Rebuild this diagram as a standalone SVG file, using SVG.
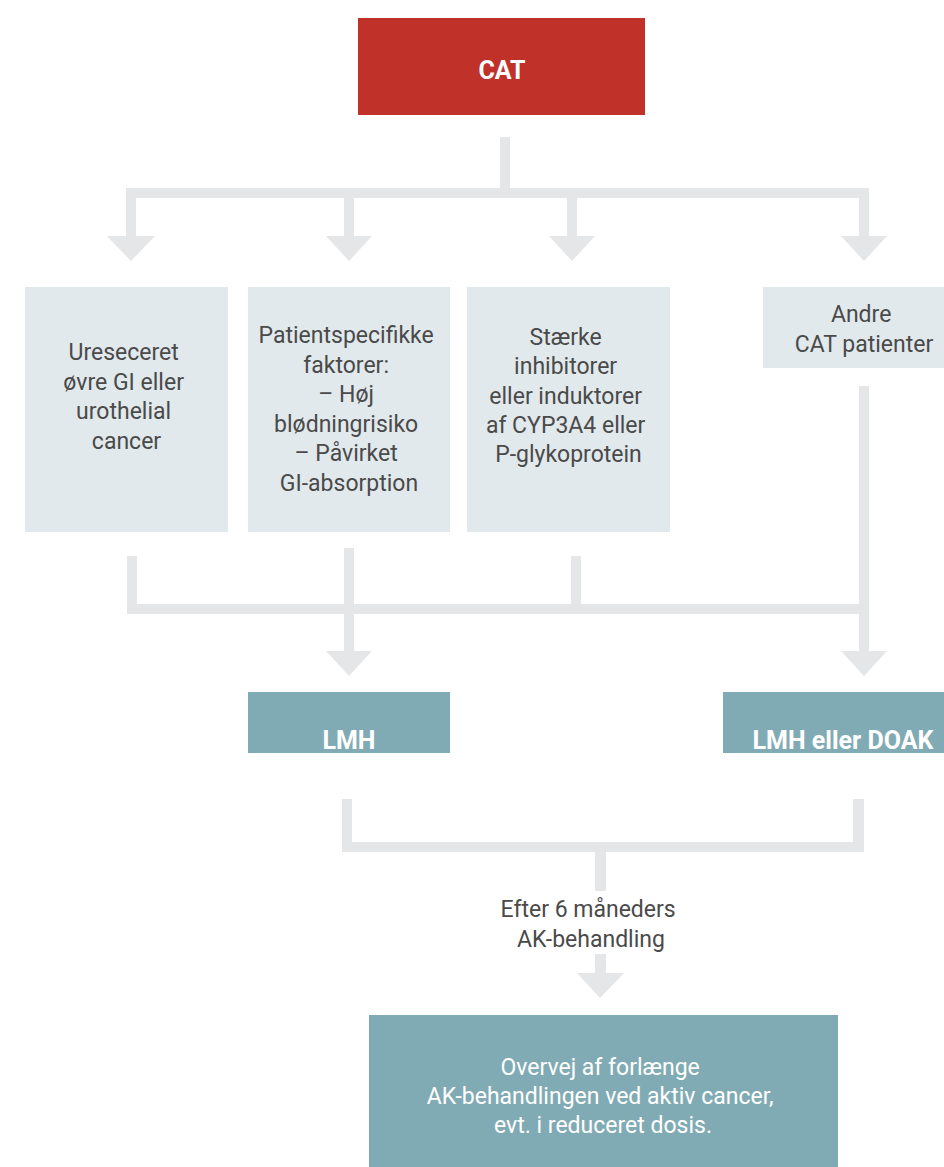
<svg xmlns="http://www.w3.org/2000/svg" width="944" height="1167" viewBox="0 0 944 1167">
  <style>
    .conn { fill: #E5E6E8; }
    .crit { fill: #E1E9EC; }
    .ther { fill: #81ABB4; }
    .lbl { font-family: Roboto, "Liberation Sans", sans-serif; font-size: 23px; fill: #4A4A4A; text-anchor: middle; }
    .wlbl { font-family: Roboto, "Liberation Sans", sans-serif; font-size: 23px; fill: #FFFFFF; text-anchor: middle; }
    .bold { font-weight: bold; font-size: 25px; }
  </style>
  <rect width="944" height="1167" fill="#FFFFFF"/>

  <!-- connectors -->
  <g id="connectors" class="conn">
    <!-- split from CAT into four branches -->
    <rect x="500" y="137" width="10" height="61"/>
    <rect x="126" y="188" width="743" height="10"/>
    <path d="M126 198 H136 V236 H155 L131 261 L107 236 H126 Z"/>
    <path d="M344 198 H354 V236 H372 L349 261 L326 236 H344 Z"/>
    <path d="M567 198 H577 V236 H595 L572 261 L549 236 H567 Z"/>
    <path d="M859 198 H869 V236 H887 L864 261 L841 236 H859 Z"/>

    <!-- merge into the two therapy boxes -->
    <rect x="127" y="556" width="10" height="58"/>
    <rect x="571" y="556" width="10" height="54"/>
    <rect x="127" y="604" width="742" height="10"/>
    <path d="M344 548 H354 V651 H372 L349 676 L326 651 H344 Z"/>
    <path d="M859 386 H869 V651 H887 L864 676 L841 651 H859 Z"/>

    <!-- after six months -->
    <rect x="342" y="799" width="10" height="53"/>
    <rect x="853" y="799" width="11" height="53"/>
    <rect x="342" y="842" width="522" height="10"/>
    <rect x="595" y="852" width="11" height="39"/>
    <path d="M595 954 H606 V973 H624 L600 998 L577 973 H595 Z"/>
  </g>

  <g id="cat">
    <rect x="358" y="18" width="287" height="97" fill="#C0312A"/>
    <text class="wlbl bold" x="502" y="79">CAT</text>
  </g>

  <g id="ureseceret">
    <rect class="crit" x="25" y="287" width="203" height="245"/>
    <text class="lbl">
      <tspan x="126.5" y="360">Ureseceret</tspan>
      <tspan x="126.5" y="389.5">øvre GI eller</tspan>
      <tspan x="126.5" y="419">urothelial</tspan>
      <tspan x="126.5" y="448.5">cancer</tspan>
    </text>
  </g>

  <g id="patientspecifikke">
    <rect class="crit" x="248" y="287" width="202" height="245"/>
    <text class="lbl">
      <tspan x="349" y="343">Patientspecifikke</tspan>
      <tspan x="349" y="372.5">faktorer:</tspan>
      <tspan x="349" y="402">– Høj</tspan>
      <tspan x="349" y="431.5">blødningrisiko</tspan>
      <tspan x="349" y="461">– Påvirket</tspan>
      <tspan x="349" y="490.5">GI-absorption</tspan>
    </text>
  </g>

  <g id="staerke">
    <rect class="crit" x="467" y="287" width="203" height="245"/>
    <text class="lbl">
      <tspan x="568.5" y="345">Stærke</tspan>
      <tspan x="568.5" y="374">inhibitorer</tspan>
      <tspan x="568.5" y="403.5">eller induktorer</tspan>
      <tspan x="568.5" y="433">af CYP3A4 eller</tspan>
      <tspan x="568.5" y="462">P-glykoprotein</tspan>
    </text>
  </g>

  <g id="andre">
    <rect class="crit" x="763" y="287" width="181" height="81"/>
    <text class="lbl">
      <tspan x="864" y="322">Andre</tspan>
      <tspan x="864" y="352">CAT patienter</tspan>
    </text>
  </g>

  <g id="lmh">
    <rect class="ther" x="248" y="692" width="202" height="61"/>
    <text class="wlbl bold" x="349" y="749">LMH</text>
  </g>

  <g id="lmh-doak">
    <rect class="ther" x="723" y="692" width="221" height="61"/>
    <text class="wlbl bold" x="843" y="749">LMH eller DOAK</text>
  </g>

  <g id="efter">
    <text class="lbl">
      <tspan x="591" y="917">Efter 6 måneders</tspan>
      <tspan x="591" y="947">AK-behandling</tspan>
    </text>
  </g>

  <g id="overvej">
    <rect class="ther" x="369" y="1015" width="469" height="152"/>
    <text class="wlbl">
      <tspan x="603" y="1075">Overvej af forlænge</tspan>
      <tspan x="603" y="1104">AK-behandlingen ved aktiv cancer,</tspan>
      <tspan x="603" y="1133">evt. i reduceret dosis.</tspan>
    </text>
  </g>
</svg>
